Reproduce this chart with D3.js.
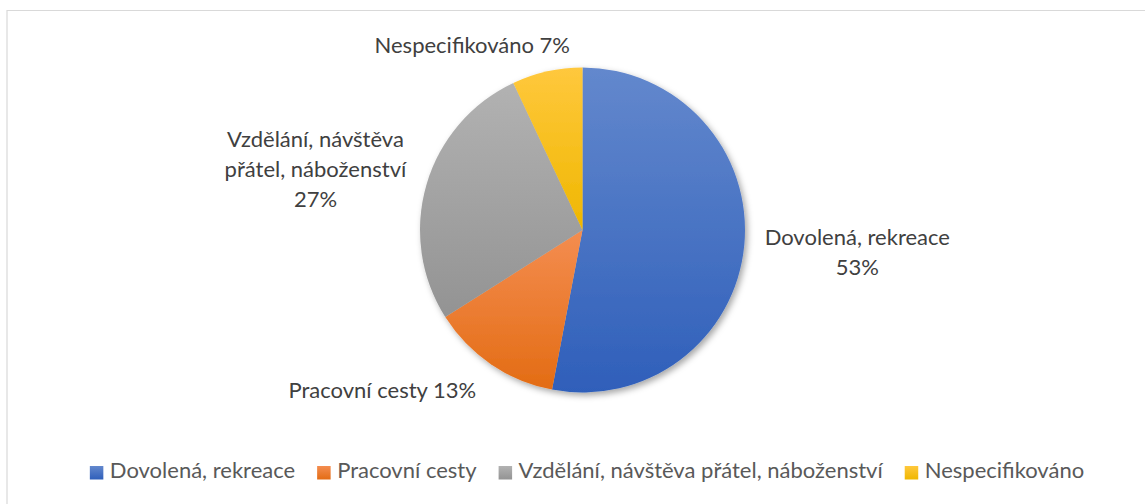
<!DOCTYPE html>
<html><head><meta charset="utf-8">
<script src="https://cdn.jsdelivr.net/npm/d3@7"></script>
<style>
html,body{margin:0;padding:0;background:#fff;}
svg{display:block;}
text{font-family:Lato,"Open Sans",sans-serif;}
</style></head>
<body>
<svg id="chart" width="1145" height="504"></svg>
<script>
const categories = ["Dovolená, rekreace", "Pracovní cesty", "Vzdělání, návštěva přátel, náboženství", "Nespecifikováno"];
const values = [53, 13, 27, 7];
const labelLines = [["Dovolená, rekreace", "53%"], ["Pracovní cesty 13%"], ["Vzdělání, návštěva", "přátel, náboženství", "27%"], ["Nespecifikováno 7%"]];
const colors = [["#6388cd", "#2f5fba"], ["#f48d50", "#e36c14"], ["#b2b2b2", "#939393"], ["#ffc83d", "#efb700"]];

const W = 1145, H = 504;
const cx = 582.5, cy = 230, R = 162.5;
const fontSize = 22;
const labelR = 276;
const nudges = [[0, -4], [-45, -68], [-2, 16], [-50, 85]];

const svg = d3.select("#chart");
const defs = svg.append("defs");

// border
svg.append("path").attr("d", `M7,${H} V10.5 H${W}`).attr("fill", "none")
  .attr("stroke", "#d9d9d9").attr("stroke-width", 1.2);

const f = defs.append("filter").attr("id", "sh").attr("x", "-20%").attr("y", "-20%").attr("width", "140%").attr("height", "140%");
f.append("feDropShadow").attr("dx", 2.5).attr("dy", 3).attr("stdDeviation", 3).attr("flood-color", "#000").attr("flood-opacity", 0.35);

colors.forEach((c, i) => {
  const g = defs.append("linearGradient").attr("id", "g" + i).attr("x1", 0).attr("y1", 0).attr("x2", 0).attr("y2", 1);
  g.append("stop").attr("offset", "0%").attr("stop-color", c[0]);
  g.append("stop").attr("offset", "100%").attr("stop-color", c[1]);
  const lg = defs.append("linearGradient").attr("id", "lg" + i).attr("x1", 0).attr("y1", 0).attr("x2", 0).attr("y2", 1);
  lg.append("stop").attr("offset", "0%").attr("stop-color", c[0]);
  lg.append("stop").attr("offset", "100%").attr("stop-color", c[1]);
});

const pie = d3.pie().sort(null).value(d => d)(values);
const arc = d3.arc().innerRadius(0).outerRadius(R);
const labelArc = d3.arc().innerRadius(labelR).outerRadius(labelR);

const gPie = svg.append("g").attr("transform", `translate(${cx},${cy})`);
gPie.append("g").attr("filter", "url(#sh)")
  .selectAll("path").data(pie).join("path")
  .attr("d", arc)
  .attr("fill", (d, i) => `url(#g${i})`);

// labels
const lineH = 30;
pie.forEach((d, i) => {
  const mid = (d.startAngle + d.endAngle) / 2;
  const p = labelArc.centroid({startAngle: mid, endAngle: mid});
  const x = cx + p[0] + nudges[i][0];
  const y = cy + p[1] + nudges[i][1];
  const lines = labelLines[i];
  const t = svg.append("text").attr("text-anchor", "middle").attr("fill", "#404040")
    .attr("font-size", fontSize);
  const y0 = y - (lines.length - 1) * lineH / 2 + fontSize * 0.35;
  lines.forEach((ln, k) => {
    t.append("tspan").attr("x", x).attr("y", y0 + k * lineH).text(ln);
  });
});

// legend
const legend = svg.append("g");
let xpos = 0;
categories.forEach((c, i) => {
  const g = legend.append("g");
  g.append("rect").attr("x", 0).attr("y", -12).attr("width", 13.5).attr("height", 13.5).attr("fill", `url(#lg${i})`);
  const t = g.append("text").attr("x", 20).attr("y", 0).attr("fill", "#595959").attr("font-size", fontSize).text(c);
  const w = 20 + t.node().getComputedTextLength();
  g.attr("transform", `translate(${xpos},0)`);
  xpos += w + 22;
});
const totalW = xpos - 22;
legend.attr("transform", `translate(${587 - totalW / 2},478)`);
</script>
</body></html>
